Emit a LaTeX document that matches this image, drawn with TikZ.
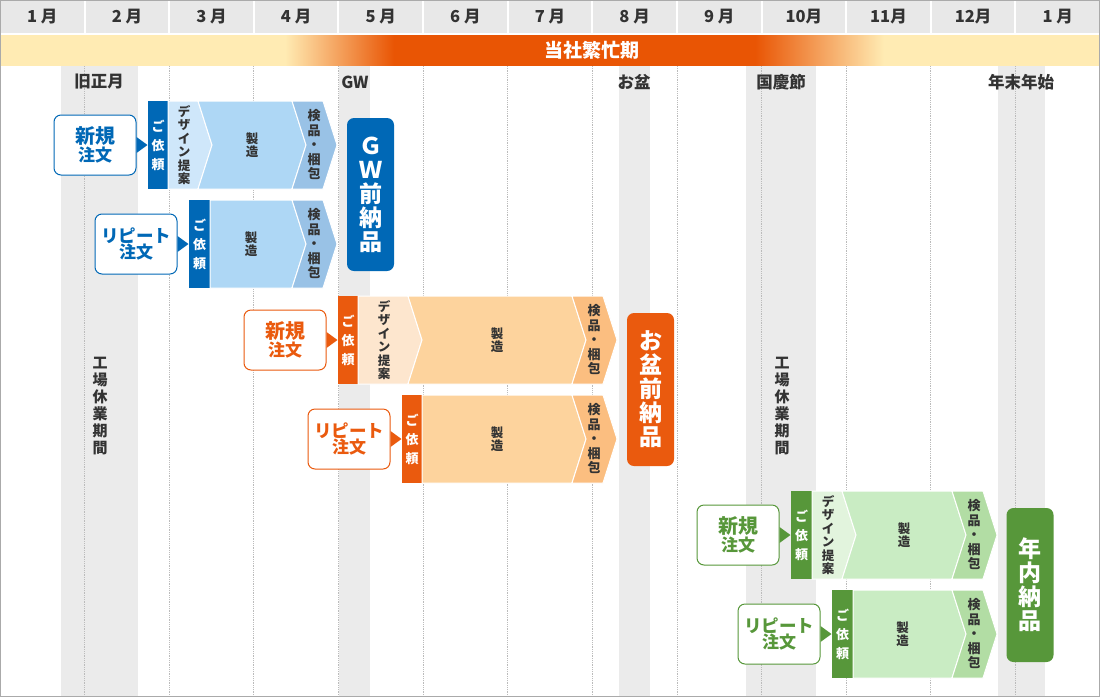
\documentclass[tikz,border=0pt]{standalone}
\usepackage{fontspec}
\newfontfamily\jp{Noto Sans CJK JP}
\newcommand\myfs[2]{\fontsize{#1}{#2}\selectfont}
\definecolor{hdr}{HTML}{E8E8E8}
\definecolor{band}{HTML}{EBEBEB}
\definecolor{txt}{HTML}{333333}
\definecolor{pale}{HTML}{FFEBB3}
\definecolor{busy}{HTML}{E95504}
\definecolor{frame}{HTML}{AAAAAA}
\definecolor{dots}{HTML}{BBBBBB}
\definecolor{bD}{HTML}{0068B6}
\definecolor{bL1}{HTML}{CFE7FA}
\definecolor{bL2}{HTML}{AED7F5}
\definecolor{bL3}{HTML}{99C2E6}
\definecolor{oD}{HTML}{EA5A0E}
\definecolor{oL1}{HTML}{FDE6CE}
\definecolor{oL2}{HTML}{FDD39D}
\definecolor{oL3}{HTML}{FBBE80}
\definecolor{gD}{HTML}{57973A}
\definecolor{gL1}{HTML}{E2F4DD}
\definecolor{gL2}{HTML}{C9ECC3}
\definecolor{gL3}{HTML}{B2DDA4}
\tikzset{
  seg/.style={draw=white, line width=1pt},
  monthlbl/.style={font=\jp\bfseries\myfs{16.5}{18}, text=txt, inner sep=0},
  holi/.style={font=\jp\bfseries\myfs{16.5}{18}, text=txt, inner sep=0},
  closed/.style={font=\jp\bfseries\myfs{15}{17}, text=txt, align=center, inner sep=0},
  reqtext/.style={font=\jp\bfseries\myfs{13}{19}, text=white, align=center, inner sep=0},
  steptext/.style={font=\jp\bfseries\myfs{12.5}{13.5}, text=txt, align=center, inner sep=0},
  insptext/.style={font=\jp\bfseries\myfs{13}{14.5}, text=txt, align=center, inner sep=0},
  callout/.style={draw=#1, fill=white, line width=1pt, rounded corners=7pt,
     minimum width=82pt, minimum height=60pt, inner sep=0, align=center, text=#1,
     font=\jp\bfseries},
  deliver/.style={fill=#1, rounded corners=7pt, minimum width=47pt, inner sep=0,
     align=center, text=white, font=\jp\bfseries\myfs{23}{24}},
}
% row with design step: #1 colour prefix, #2 top y, #3 a, #4 b, #5 c, #6 d, #7 name
\newcommand\rowD[7]{%
  \pgfmathsetmacro\yb{#2+88}\pgfmathsetmacro\ym{#2+44}%
  \fill[#1D] (#3,#2) rectangle (#4,\yb);
  \filldraw[seg, fill=#1L1] (#4,#2) -- (#5,#2) -- (#5+14,\ym) -- (#5,\yb) -- (#4,\yb) -- cycle;
  \filldraw[seg, fill=#1L2] (#5,#2) -- (#6,#2) -- (#6+14,\ym) -- (#6,\yb) -- (#5,\yb) -- (#5+14,\ym) -- cycle;
  \filldraw[seg, fill=#1L3] (#6,#2) -- (#6+31,#2) -- (#6+45,\ym) -- (#6+31,\yb) -- (#6,\yb) -- (#6+14,\ym) -- cycle;
  \node[reqtext] (#7-req) at ({(#3+#4)/2},\ym) {ご\\依\\頼};
  \node[steptext] (#7-des) at ({(#4+#5)/2+1},\ym) {デ\\ザ\\イ\\ン\\提\\案};
  \node[steptext] (#7-mfg) at ({(#5+14+#6)/2},\ym) {製\\造};
  \node[insptext] (#7-ins) at (#6+22,\ym) {検\\品\\・\\梱\\包};
}
% row without design step: #1 colour, #2 top y, #3 a, #4 b, #5 d, #6 name
\newcommand\rowR[6]{%
  \pgfmathsetmacro\yb{#2+88}\pgfmathsetmacro\ym{#2+44}%
  \fill[#1D] (#3,#2) rectangle (#4,\yb);
  \filldraw[seg, fill=#1L2] (#4,#2) -- (#5,#2) -- (#5+14,\ym) -- (#5,\yb) -- (#4,\yb) -- cycle;
  \filldraw[seg, fill=#1L3] (#5,#2) -- (#5+31,#2) -- (#5+45,\ym) -- (#5+31,\yb) -- (#5,\yb) -- (#5+14,\ym) -- cycle;
  \node[reqtext] (#6-req) at ({(#3+#4)/2},\ym) {ご\\依\\頼};
  \node[steptext] (#6-mfg) at ({(#4+#5)/2},\ym) {製\\造};
  \node[insptext] (#6-ins) at (#5+22,\ym) {検\\品\\・\\梱\\包};
}
% callout: #1 colour, #2 request-box left x, #3 row top y, #4 name, #5 first line, #6 size
\newcommand\callbox[6]{%
  \pgfmathsetmacro\ym{#3+44}%
  \node[callout=#1] (#4) at (#2-53,\ym) {{\myfs{#6}{21}#5}\\{\myfs{17}{21}注文}};
  \fill[#1] (#4.east) ++(0,-8) -- ++(11,8) -- ++(-11,8) -- cycle;
}
\begin{document}
\begin{tikzpicture}[x=1pt,y=-1pt]
\useasboundingbox (0,0) rectangle (1100,697);
\fill[white] (0,0) rectangle (1100,697);
% header
\fill[hdr] (0,0) rectangle (1100,33);
\foreach \k in {1,...,12} \fill[white] ({84.615*\k-1},0) rectangle ({84.615*\k+1},33);
\foreach \m [count=\i] in {1 月,2 月,3 月,4 月,5 月,6 月,7 月,8 月,9 月,10月,11月,12月,1 月}
  \node[monthlbl] (m\i) at ({84.615*(\i-0.5)},17) {\m};
% busy bar
\fill[pale] (0,35) rectangle (1100,66);
\fill[busy] (394,35) rectangle (757,66);
\foreach \i in {0,...,109}{%
  \pgfmathsetmacro\p{\i/1.09}%
  \fill[busy!\p!pale] (285+\i,35) rectangle (286.6+\i,66);}
\foreach \i in {0,...,129}{%
  \pgfmathsetmacro\p{\i/1.29}%
  \fill[pale!\p!busy] (755+\i,35) rectangle (756.6+\i,66);}
\node[font=\jp\bfseries\myfs{19}{20}, text=white, inner sep=0] (busylbl) at (592,50) {当社繁忙期};
% holiday bands
\fill[band] (61,66) rectangle (138,697);
\fill[band] (339,66) rectangle (370,697);
\fill[band] (619,66) rectangle (650,697);
\fill[band] (746,66) rectangle (816,697);
\fill[band] (998,66) rectangle (1045,697);
% dotted month lines
\foreach \k in {1,...,12} \draw[dots, densely dotted, line width=0.8pt] ({84.615*\k},66) -- ({84.615*\k},697);
% holiday labels
\node[holi] (h1) at (99,82) {旧正月};
\node[holi] (h2) at (355,82) {GW};
\node[holi] (h3) at (634,82) {お盆};
\node[holi] (h4) at (781,82) {国慶節};
\node[holi] (h5) at (1021,82) {年末年始};
\node[closed] (c1) at (100,406) {工\\場\\休\\業\\期\\間};
\node[closed] (c2) at (782,406) {工\\場\\休\\業\\期\\間};
% rows
\rowD{b}{101}{148}{168}{198}{292}{bn}
\rowR{b}{200}{189}{210}{292}{br}
\rowD{o}{296}{338}{358}{408}{572}{on}
\rowR{o}{395}{402}{422}{572}{or}
\rowD{g}{491}{791}{812}{842}{952}{gn}
\rowR{g}{590}{832}{853}{952}{gr}
% callouts
\callbox{bD}{148}{101}{bnc}{新規}{20}
\callbox{bD}{189}{200}{brc}{リピート}{17.5}
\callbox{oD}{338}{296}{onc}{新規}{20}
\callbox{oD}{402}{395}{orc}{リピート}{17.5}
\callbox{gD}{791}{491}{gnc}{新規}{20}
\callbox{gD}{832}{590}{grc}{リピート}{17.5}
% deliveries
\node[deliver=bD, minimum height=153pt] (gw) at (370.5,194.5) {Ｇ\\Ｗ\\前\\納\\品};
\node[deliver=oD, minimum height=153pt] (obon) at (650.5,389.5) {お\\盆\\前\\納\\品};
\node[deliver=gD, minimum height=154pt] (nen) at (1030,585) {年\\内\\納\\品};
% frame
\draw[frame, line width=1pt] (0.5,0.5) rectangle (1099.5,696.5);
\end{tikzpicture}
\end{document}
